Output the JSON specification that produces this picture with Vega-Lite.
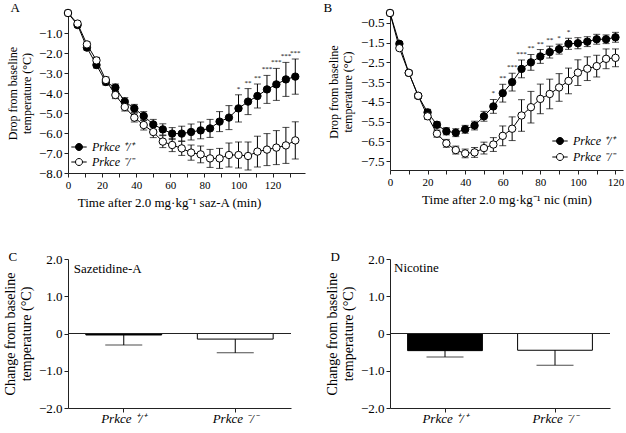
{
  "$schema": "https://vega.github.io/schema/vega-lite/v6.json",
  "background": "white",
  "padding": {"left": 3, "top": 2, "right": 0, "bottom": 0},
  "columns": 2,
  "spacing": {"row": 42, "column": 18},
  "align": "each",
  "resolve": {"scale": {"fill": "independent"}, "legend": {"fill": "independent"}},
  "config": {
    "font": "Liberation Serif",
    "view": {"stroke": null},
    "axis": {"labelFont": "Liberation Serif", "titleFont": "Liberation Serif", "labelFontSize": 12, "titleFontSize": 12, "titleFontWeight": "normal", "labelColor": "black", "titleColor": "black", "domainColor": "#222", "tickColor": "#222", "grid": false, "tickSize": 4, "labelPadding": 2, "labelOverlap": false},
    "title": {"font": "Liberation Serif", "fontWeight": "normal", "fontSize": 13, "anchor": "start", "frame": "bounds", "color": "black"},
    "legend": {"labelFont": "Liberation Serif", "labelFontStyle": "italic", "labelFontSize": 12, "labelColor": "black"}
  },
  "datasets": {
    "A": [
      {"t": 0, "g": "+/+", "m": 0, "e": 0},
      {"t": 5.6, "g": "+/+", "m": -0.6, "e": 0.1},
      {"t": 11.1, "g": "+/+", "m": -1.73, "e": 0.12},
      {"t": 16.7, "g": "+/+", "m": -2.6, "e": 0.15},
      {"t": 22.2, "g": "+/+", "m": -3.45, "e": 0.15},
      {"t": 27.8, "g": "+/+", "m": -3.73, "e": 0.18},
      {"t": 33.3, "g": "+/+", "m": -4.43, "e": 0.2},
      {"t": 38.9, "g": "+/+", "m": -4.77, "e": 0.2},
      {"t": 44.4, "g": "+/+", "m": -5.15, "e": 0.22},
      {"t": 50, "g": "+/+", "m": -5.57, "e": 0.25},
      {"t": 55.6, "g": "+/+", "m": -5.82, "e": 0.28},
      {"t": 61.1, "g": "+/+", "m": -6.03, "e": 0.3},
      {"t": 66.7, "g": "+/+", "m": -6.03, "e": 0.37},
      {"t": 72.2, "g": "+/+", "m": -5.95, "e": 0.4},
      {"t": 77.8, "g": "+/+", "m": -5.87, "e": 0.42},
      {"t": 83.3, "g": "+/+", "m": -5.77, "e": 0.45},
      {"t": 88.9, "g": "+/+", "m": -5.43, "e": 0.5},
      {"t": 94.4, "g": "+/+", "m": -5.23, "e": 0.6},
      {"t": 100, "g": "+/+", "m": -4.77, "e": 0.68, "sig": "*"},
      {"t": 105.6, "g": "+/+", "m": -4.43, "e": 0.65, "sig": "**"},
      {"t": 111.1, "g": "+/+", "m": -4.15, "e": 0.6, "sig": "**"},
      {"t": 116.7, "g": "+/+", "m": -3.82, "e": 0.7, "sig": "***"},
      {"t": 122.2, "g": "+/+", "m": -3.57, "e": 0.8, "sig": "***"},
      {"t": 127.8, "g": "+/+", "m": -3.32, "e": 0.85, "sig": "***"},
      {"t": 133.3, "g": "+/+", "m": -3.18, "e": 0.88, "sig": "***"},
      {"t": 0, "g": "−/−", "m": 0, "e": 0},
      {"t": 5.6, "g": "−/−", "m": -0.53, "e": 0.1},
      {"t": 11.1, "g": "−/−", "m": -1.57, "e": 0.12},
      {"t": 16.7, "g": "−/−", "m": -2.37, "e": 0.15},
      {"t": 22.2, "g": "−/−", "m": -3.35, "e": 0.15},
      {"t": 27.8, "g": "−/−", "m": -4.1, "e": 0.18},
      {"t": 33.3, "g": "−/−", "m": -4.7, "e": 0.2},
      {"t": 38.9, "g": "−/−", "m": -5.23, "e": 0.22},
      {"t": 44.4, "g": "−/−", "m": -5.6, "e": 0.25},
      {"t": 50, "g": "−/−", "m": -5.95, "e": 0.28},
      {"t": 55.6, "g": "−/−", "m": -6.43, "e": 0.3},
      {"t": 61.1, "g": "−/−", "m": -6.6, "e": 0.33},
      {"t": 66.7, "g": "−/−", "m": -6.77, "e": 0.35},
      {"t": 72.2, "g": "−/−", "m": -6.98, "e": 0.38},
      {"t": 77.8, "g": "−/−", "m": -7.07, "e": 0.42},
      {"t": 83.3, "g": "−/−", "m": -7.27, "e": 0.45},
      {"t": 88.9, "g": "−/−", "m": -7.27, "e": 0.5},
      {"t": 94.4, "g": "−/−", "m": -7.1, "e": 0.6},
      {"t": 100, "g": "−/−", "m": -7.1, "e": 0.65},
      {"t": 105.6, "g": "−/−", "m": -7.15, "e": 0.7},
      {"t": 111.1, "g": "−/−", "m": -6.93, "e": 0.77},
      {"t": 116.7, "g": "−/−", "m": -6.83, "e": 0.8},
      {"t": 122.2, "g": "−/−", "m": -6.73, "e": 0.85},
      {"t": 127.8, "g": "−/−", "m": -6.62, "e": 0.9},
      {"t": 133.3, "g": "−/−", "m": -6.37, "e": 0.93}
    ],
    "B": [
      {"t": 0, "g": "+/+", "m": 0, "e": 0},
      {"t": 5, "g": "+/+", "m": -1.56, "e": 0.1},
      {"t": 10, "g": "+/+", "m": -3.03, "e": 0.1},
      {"t": 15, "g": "+/+", "m": -4.2, "e": 0.12},
      {"t": 20, "g": "+/+", "m": -5.03, "e": 0.15},
      {"t": 25, "g": "+/+", "m": -5.66, "e": 0.15},
      {"t": 30, "g": "+/+", "m": -5.99, "e": 0.18},
      {"t": 35, "g": "+/+", "m": -6.06, "e": 0.2},
      {"t": 40, "g": "+/+", "m": -5.89, "e": 0.2},
      {"t": 45, "g": "+/+", "m": -5.7, "e": 0.22},
      {"t": 50, "g": "+/+", "m": -5.23, "e": 0.25},
      {"t": 55, "g": "+/+", "m": -4.73, "e": 0.35, "sig": "*"},
      {"t": 60, "g": "+/+", "m": -4.06, "e": 0.45, "sig": "**"},
      {"t": 65, "g": "+/+", "m": -3.5, "e": 0.45, "sig": "***"},
      {"t": 70, "g": "+/+", "m": -2.83, "e": 0.45, "sig": "***"},
      {"t": 75, "g": "+/+", "m": -2.5, "e": 0.4, "sig": "**"},
      {"t": 80, "g": "+/+", "m": -2.2, "e": 0.35, "sig": "**"},
      {"t": 85, "g": "+/+", "m": -1.98, "e": 0.3, "sig": "**"},
      {"t": 90, "g": "+/+", "m": -1.83, "e": 0.25, "sig": "*"},
      {"t": 95, "g": "+/+", "m": -1.56, "e": 0.28, "sig": "*"},
      {"t": 100, "g": "+/+", "m": -1.53, "e": 0.28},
      {"t": 105, "g": "+/+", "m": -1.45, "e": 0.25},
      {"t": 110, "g": "+/+", "m": -1.33, "e": 0.25},
      {"t": 115, "g": "+/+", "m": -1.33, "e": 0.22},
      {"t": 120, "g": "+/+", "m": -1.23, "e": 0.25},
      {"t": 0, "g": "−/−", "m": 0, "e": 0},
      {"t": 5, "g": "−/−", "m": -1.78, "e": 0.1},
      {"t": 10, "g": "−/−", "m": -3.03, "e": 0.1},
      {"t": 15, "g": "−/−", "m": -4.19, "e": 0.12},
      {"t": 20, "g": "−/−", "m": -5.23, "e": 0.15},
      {"t": 25, "g": "−/−", "m": -6.11, "e": 0.18},
      {"t": 30, "g": "−/−", "m": -6.6, "e": 0.2},
      {"t": 35, "g": "−/−", "m": -6.94, "e": 0.2},
      {"t": 40, "g": "−/−", "m": -7.11, "e": 0.22},
      {"t": 45, "g": "−/−", "m": -7.06, "e": 0.25},
      {"t": 50, "g": "−/−", "m": -6.84, "e": 0.3},
      {"t": 55, "g": "−/−", "m": -6.66, "e": 0.35},
      {"t": 60, "g": "−/−", "m": -6.22, "e": 0.5},
      {"t": 65, "g": "−/−", "m": -5.86, "e": 0.6},
      {"t": 70, "g": "−/−", "m": -5.19, "e": 0.8},
      {"t": 75, "g": "−/−", "m": -4.77, "e": 0.8},
      {"t": 80, "g": "−/−", "m": -4.35, "e": 0.75},
      {"t": 85, "g": "−/−", "m": -4.1, "e": 0.75},
      {"t": 90, "g": "−/−", "m": -3.77, "e": 0.7},
      {"t": 95, "g": "−/−", "m": -3.44, "e": 0.65},
      {"t": 100, "g": "−/−", "m": -3.02, "e": 0.65},
      {"t": 105, "g": "−/−", "m": -2.82, "e": 0.6},
      {"t": 110, "g": "−/−", "m": -2.69, "e": 0.55},
      {"t": 115, "g": "−/−", "m": -2.32, "e": 0.5},
      {"t": 120, "g": "−/−", "m": -2.27, "e": 0.45}
    ],
    "bars": [
      {"drug": "saz", "g": "+/+", "m": -0.04, "e": 0.27},
      {"drug": "saz", "g": "−/−", "m": -0.15, "e": 0.37},
      {"drug": "nic", "g": "+/+", "m": -0.46, "e": 0.17},
      {"drug": "nic", "g": "−/−", "m": -0.45, "e": 0.4}
    ]
  },
  "concat": [
    {
      "width": 237, "height": 160,
      "title": {"text": "A", "offset": -8, "dx": 4},
      "data": {"name": "A"},
      "transform": [{"calculate": "datum.m - datum.e", "as": "lo"}, {"calculate": "datum.m + datum.e", "as": "hi"}],
      "encoding": {
        "x": {"field": "t", "type": "quantitative", "scale": {"domain": [0, 139], "nice": false},
              "axis": {"values": [0, 10, 20, 30, 40, 50, 60, 70, 80, 90, 100, 110, 120, 130], "tickCount": 30, "labelFontSize": 11, "labelExpr": "datum.value % 20 == 0 ? datum.label : ''", "labelFlush": false, "title": "Time after 2.0 mg·kg⁻¹ saz-A (min)", "titleFontSize": 13, "titleX": 101, "titlePadding": 6}}
      },
      "layer": [
        {"mark": {"type": "rule", "color": "black", "strokeWidth": 1},
         "encoding": {"y": {"field": "lo", "type": "quantitative", "scale": {"domain": [-8, 0], "nice": false}, "axis": {"values": [-1, -2, -3, -4, -5, -6, -7, -8], "tickCount": 30, "labelFontSize": 13, "labelExpr": "'−' + format(abs(datum.value), '.1f')", "title": ["Drop from baseline", "temperature (°C)"], "titlePadding": 5}}, "y2": {"field": "hi"}}},
        {"mark": {"type": "tick", "orient": "horizontal", "size": 7, "thickness": 1, "color": "black"},
         "encoding": {"y": {"field": "lo", "type": "quantitative", "scale": {"domain": [-8, 0], "nice": false}}}},
        {"mark": {"type": "tick", "orient": "horizontal", "size": 7, "thickness": 1, "color": "black"},
         "encoding": {"y": {"field": "hi", "type": "quantitative", "scale": {"domain": [-8, 0], "nice": false}}}},
        {"mark": {"type": "line", "color": "black", "strokeWidth": 1},
         "encoding": {"y": {"field": "m", "type": "quantitative", "scale": {"domain": [-8, 0], "nice": false}}, "detail": {"field": "g"}}},
        {"mark": {"type": "circle", "stroke": "black", "strokeWidth": 1, "size": 55, "opacity": 1},
         "encoding": {"y": {"field": "m", "type": "quantitative", "scale": {"domain": [-8, 0], "nice": false}},
                      "fill": {"field": "g", "type": "nominal", "scale": {"domain": ["+/+", "−/−"], "range": ["black", "white"]},
                               "legend": {"orient": "bottom-left", "offset": 5, "title": null, "padding": 0, "rowPadding": 3, "labelOffset": 7,
                                          "labelExpr": "datum.label == '+/+' ? 'Prkce ⁺/⁺' : 'Prkce ⁻/⁻'",
                                          "symbolType": "M -2.2 0 L -1 0 M 1 0 L 2.2 0 M 1 0 A 1 1 0 1 1 -1 0 A 1 1 0 1 1 1 0 Z",
                                          "symbolSize": 49, "symbolStrokeColor": "black", "symbolStrokeWidth": 1}}}},
        {"transform": [{"filter": "isValid(datum.sig)"}],
         "mark": {"type": "text", "baseline": "bottom", "dy": -3, "fontSize": 7, "color": "black"},
         "encoding": {"y": {"field": "hi", "type": "quantitative", "scale": {"domain": [-8, 0], "nice": false}}, "text": {"field": "sig"}}}
      ]
    },
    {
      "width": 233, "height": 157,
      "title": {"text": "B", "offset": -8, "dx": -4},
      "data": {"name": "B"},
      "transform": [{"calculate": "datum.m - datum.e", "as": "lo"}, {"calculate": "datum.m + datum.e", "as": "hi"}],
      "encoding": {
        "x": {"field": "t", "type": "quantitative", "scale": {"domain": [0, 124], "nice": false},
              "axis": {"values": [0, 10, 20, 30, 40, 50, 60, 70, 80, 90, 100, 110, 120], "tickCount": 30, "labelFontSize": 11, "labelExpr": "datum.value % 20 == 0 ? datum.label : ''", "labelFlush": false, "title": "Time after 2.0 mg·kg⁻¹  nic (min)", "titleFontSize": 13, "titlePadding": 6}}
      },
      "layer": [
        {"mark": {"type": "rule", "color": "black", "strokeWidth": 1},
         "encoding": {"y": {"field": "lo", "type": "quantitative", "scale": {"domain": [-7.95, 0], "nice": false}, "axis": {"values": [-0.5, -1.5, -2.5, -3.5, -4.5, -5.5, -6.5, -7.5], "tickCount": 30, "labelFontSize": 13, "labelExpr": "'−' + format(abs(datum.value), '.1f')", "title": ["Drop from baseline", "temperature (°C)"], "titlePadding": 6}}, "y2": {"field": "hi"}}},
        {"mark": {"type": "tick", "orient": "horizontal", "size": 7, "thickness": 1, "color": "black"},
         "encoding": {"y": {"field": "lo", "type": "quantitative", "scale": {"domain": [-7.95, 0], "nice": false}}}},
        {"mark": {"type": "tick", "orient": "horizontal", "size": 7, "thickness": 1, "color": "black"},
         "encoding": {"y": {"field": "hi", "type": "quantitative", "scale": {"domain": [-7.95, 0], "nice": false}}}},
        {"mark": {"type": "line", "color": "black", "strokeWidth": 1},
         "encoding": {"y": {"field": "m", "type": "quantitative", "scale": {"domain": [-7.95, 0], "nice": false}}, "detail": {"field": "g"}}},
        {"mark": {"type": "circle", "stroke": "black", "strokeWidth": 1, "size": 55, "opacity": 1},
         "encoding": {"y": {"field": "m", "type": "quantitative", "scale": {"domain": [-7.95, 0], "nice": false}},
                      "fill": {"field": "g", "type": "nominal", "scale": {"domain": ["+/+", "−/−"], "range": ["black", "white"]},
                               "legend": {"orient": "bottom-right", "offset": 7, "title": null, "padding": 0, "rowPadding": 4, "labelOffset": 7,
                                          "labelExpr": "datum.label == '+/+' ? 'Prkce ⁺/⁺' : 'Prkce ⁻/⁻'",
                                          "symbolType": "M -2.2 0 L -1 0 M 1 0 L 2.2 0 M 1 0 A 1 1 0 1 1 -1 0 A 1 1 0 1 1 1 0 Z",
                                          "symbolSize": 49, "symbolStrokeColor": "black", "symbolStrokeWidth": 1}}}},
        {"transform": [{"filter": "isValid(datum.sig)"}],
         "mark": {"type": "text", "baseline": "bottom", "dy": -3, "fontSize": 7, "color": "black"},
         "encoding": {"y": {"field": "hi", "type": "quantitative", "scale": {"domain": [-7.95, 0], "nice": false}}, "text": {"field": "sig"}}}
      ]
    },
    {
      "width": 223, "height": 149,
      "title": {"text": "C", "offset": -11, "dx": 5},
      "data": {"name": "bars"},
      "layer": [
        {"transform": [{"filter": "datum.drug == 'saz'"}],
         "mark": {"type": "bar", "stroke": "black", "strokeWidth": 1},
         "encoding": {
           "x": {"field": "g", "type": "nominal", "scale": {"domain": ["+/+", "−/−"], "paddingInner": 0.32, "paddingOuter": 0.16},
                 "axis": {"title": null, "labelAngle": 0, "labelFontStyle": "italic", "labelFontSize": 13, "labelPadding": 0, "labelExpr": "datum.value == '+/+' ? 'Prkce ⁺/⁺' : 'Prkce ⁻/⁻'"}},
           "y": {"field": "m", "type": "quantitative", "scale": {"domain": [-2, 2], "nice": false},
                 "axis": {"values": [2, 1, 0, -1, -2], "tickCount": 30, "labelFontSize": 13, "titleFontSize": 14, "labelExpr": "datum.value == 0 ? '0' : (datum.value < 0 ? '−' : '') + format(abs(datum.value), '.1f')", "title": ["Change from baseline", "temperature (°C)"], "titlePadding": 5}},
           "fill": {"field": "g", "type": "nominal", "scale": {"domain": ["+/+", "−/−"], "range": ["black", "white"]}, "legend": null}}},
        {"transform": [{"filter": "datum.drug == 'saz'"}, {"calculate": "datum.m - datum.e", "as": "lo"}],
         "mark": {"type": "rule", "color": "black", "strokeWidth": 1},
         "encoding": {
           "x": {"field": "g", "type": "nominal", "scale": {"domain": ["+/+", "−/−"], "paddingInner": 0.32, "paddingOuter": 0.16}},
           "y": {"field": "m", "type": "quantitative", "scale": {"domain": [-2, 2], "nice": false}}, "y2": {"field": "lo"}}},
        {"transform": [{"filter": "datum.drug == 'saz'"}, {"calculate": "datum.m - datum.e", "as": "lo"}],
         "mark": {"type": "tick", "orient": "horizontal", "size": 37, "thickness": 1, "color": "black"},
         "encoding": {
           "x": {"field": "g", "type": "nominal", "scale": {"domain": ["+/+", "−/−"], "paddingInner": 0.32, "paddingOuter": 0.16}},
           "y": {"field": "lo", "type": "quantitative", "scale": {"domain": [-2, 2], "nice": false}}}},
        {"transform": [{"filter": "datum.drug == 'saz' && datum.g == '+/+'"}],
         "mark": {"type": "rule", "color": "#222", "strokeWidth": 1},
         "encoding": {"y": {"datum": 0, "type": "quantitative", "scale": {"domain": [-2, 2], "nice": false}}}},
        {"data": {"values": [{"label": "Sazetidine-A"}]},
         "mark": {"type": "text", "align": "left", "baseline": "middle", "dx": -50, "fontSize": 13, "color": "black"},
         "encoding": {
           "x": {"datum": "+/+", "type": "nominal", "scale": {"domain": ["+/+", "−/−"], "paddingInner": 0.32, "paddingOuter": 0.16}},
           "y": {"datum": 1.72, "type": "quantitative", "scale": {"domain": [-2, 2], "nice": false}},
           "text": {"field": "label"}}}
      ]
    },
    {
      "width": 220, "height": 149,
      "title": {"text": "D", "offset": -11, "dx": 5},
      "data": {"name": "bars"},
      "layer": [
        {"transform": [{"filter": "datum.drug == 'nic'"}],
         "mark": {"type": "bar", "stroke": "black", "strokeWidth": 1},
         "encoding": {
           "x": {"field": "g", "type": "nominal", "scale": {"domain": ["+/+", "−/−"], "paddingInner": 0.32, "paddingOuter": 0.16},
                 "axis": {"title": null, "labelAngle": 0, "labelFontStyle": "italic", "labelFontSize": 13, "labelPadding": 0, "labelExpr": "datum.value == '+/+' ? 'Prkce ⁺/⁺' : 'Prkce ⁻/⁻'"}},
           "y": {"field": "m", "type": "quantitative", "scale": {"domain": [-2, 2], "nice": false},
                 "axis": {"values": [2, 1, 0, -1, -2], "tickCount": 30, "labelFontSize": 13, "titleFontSize": 14, "labelExpr": "datum.value == 0 ? '0' : (datum.value < 0 ? '−' : '') + format(abs(datum.value), '.1f')", "title": ["Change from baseline", "temperature (°C)"], "titlePadding": 5}},
           "fill": {"field": "g", "type": "nominal", "scale": {"domain": ["+/+", "−/−"], "range": ["black", "white"]}, "legend": null}}},
        {"transform": [{"filter": "datum.drug == 'nic'"}, {"calculate": "datum.m - datum.e", "as": "lo"}],
         "mark": {"type": "rule", "color": "black", "strokeWidth": 1},
         "encoding": {
           "x": {"field": "g", "type": "nominal", "scale": {"domain": ["+/+", "−/−"], "paddingInner": 0.32, "paddingOuter": 0.16}},
           "y": {"field": "m", "type": "quantitative", "scale": {"domain": [-2, 2], "nice": false}}, "y2": {"field": "lo"}}},
        {"transform": [{"filter": "datum.drug == 'nic'"}, {"calculate": "datum.m - datum.e", "as": "lo"}],
         "mark": {"type": "tick", "orient": "horizontal", "size": 37, "thickness": 1, "color": "black"},
         "encoding": {
           "x": {"field": "g", "type": "nominal", "scale": {"domain": ["+/+", "−/−"], "paddingInner": 0.32, "paddingOuter": 0.16}},
           "y": {"field": "lo", "type": "quantitative", "scale": {"domain": [-2, 2], "nice": false}}}},
        {"transform": [{"filter": "datum.drug == 'nic' && datum.g == '+/+'"}],
         "mark": {"type": "rule", "color": "#222", "strokeWidth": 1},
         "encoding": {"y": {"datum": 0, "type": "quantitative", "scale": {"domain": [-2, 2], "nice": false}}}},
        {"data": {"values": [{"label": "Nicotine"}]},
         "mark": {"type": "text", "align": "left", "baseline": "middle", "dx": -51, "fontSize": 13, "color": "black"},
         "encoding": {
           "x": {"datum": "+/+", "type": "nominal", "scale": {"domain": ["+/+", "−/−"], "paddingInner": 0.32, "paddingOuter": 0.16}},
           "y": {"datum": 1.76, "type": "quantitative", "scale": {"domain": [-2, 2], "nice": false}},
           "text": {"field": "label"}}}
      ]
    }
  ]
}
